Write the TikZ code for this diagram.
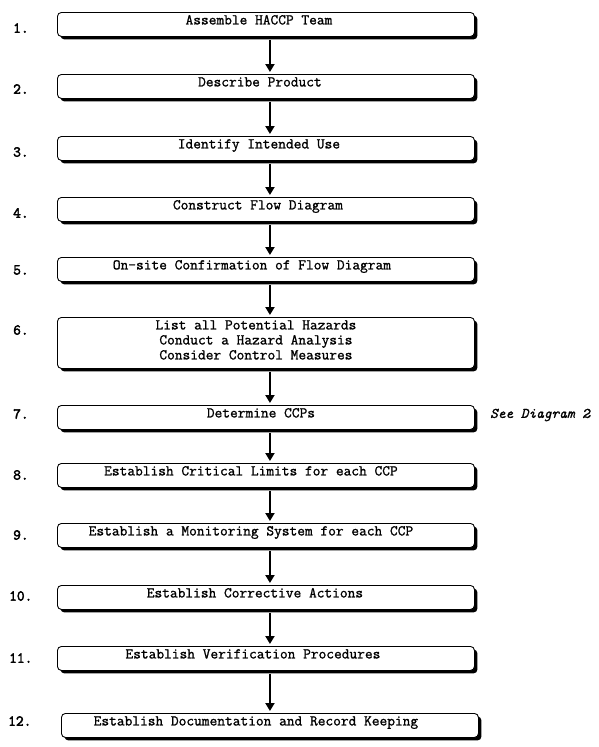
\documentclass[tikz,border=0pt]{standalone}
\usepackage{fontspec}
\usetikzlibrary{shadows,arrows.meta}
\newfontfamily\monofam[FakeBold=1.2]{Latin Modern Mono}
\newfontfamily\numfam[FakeBold=3]{Latin Modern Mono}
\tikzset{
  stepbox/.style={draw, line width=0.9pt, rounded corners=4pt, fill=white,
    minimum width=417pt, inner xsep=0pt, inner ysep=0pt,
    text height=12pt, text depth=12pt, anchor=north west,
    font=\monofam\fontsize{15}{15}\selectfont,
    drop shadow={shadow xshift=3pt, shadow yshift=-3pt, fill=black, opacity=1}},
  numlab/.style={font=\numfam\fontsize{15}{15}\selectfont, anchor=west, inner sep=0pt},
  flow/.style={line width=2.3pt, -{Triangle[width=9pt,length=8pt]}, shorten >=5pt}
}
\begin{document}
\begin{tikzpicture}[x=1pt,y=-1pt]
\useasboundingbox (0,0) rectangle (599,747);
\node[stepbox] (b1) at (57,12) {Assemble HACCP Team\hspace*{14pt}};
\node[stepbox] (b2) at (57,74) {Describe Product\hspace*{12pt}};
\node[stepbox] (b3) at (57,136) {Identify Intended Use\hspace*{14pt}};
\node[stepbox] (b4) at (57,197) {Construct Flow Diagram\hspace*{16pt}};
\node[stepbox] (b5) at (57,257) {On-site Confirmation of Flow Diagram\hspace*{28pt}};
\node[stepbox, text depth=39pt] (b6) at (57,317) {\parbox[t]{397pt}{\centering List all Potential Hazards\\Conduct a Hazard Analysis\\Consider Control Measures}\hspace*{20pt}};
\node[stepbox] (b7) at (57,405) {Determine CCPs\hspace*{10pt}};
\node[stepbox] (b8) at (57,463) {Establish Critical Limits for each CCP\hspace*{30pt}};
\node[stepbox] (b9) at (57,523) {Establish a Monitoring System for each CCP\hspace*{30pt}};
\node[stepbox] (b10) at (57,585) {Establish Corrective Actions\hspace*{22pt}};
\node[stepbox] (b11) at (57,646) {Establish Verification Procedures\hspace*{26pt}};
\node[stepbox] (b12) at (61,713) {Establish Documentation and Record Keeping\hspace*{28pt}};

\node[numlab] (n1) at (13,28) {1.};
\node[numlab] (n2) at (13,89) {2.};
\node[numlab] (n3) at (13,152) {3.};
\node[numlab] (n4) at (13,213) {4.};
\node[numlab] (n5) at (13,270) {5.};
\node[numlab] (n6) at (13,330) {6.};
\node[numlab] (n7) at (13,414) {7.};
\node[numlab] (n8) at (13,475) {8.};
\node[numlab] (n9) at (13,535) {9.};
\node[numlab] (n10) at (9,596) {10.};
\node[numlab] (n11) at (9,658) {11.};
\node[numlab] (n12) at (8,721) {12.};

\node[font=\monofam\itshape\fontsize{14.6}{15}\selectfont, anchor=west, inner sep=0pt] (see) at (490,415) {See Diagram 2};

\foreach \a/\b in {b1/b2,b2/b3,b3/b4,b4/b5,b5/b6,b6/b7,b7/b8,b8/b9,b9/b10,b10/b11,b11/b12}
  \draw[flow] ([xshift=4pt,yshift=-3pt]\a.south) -- ([xshift=4pt,yshift=-3pt]\a.south |- \b.north);
\end{tikzpicture}
\end{document}
